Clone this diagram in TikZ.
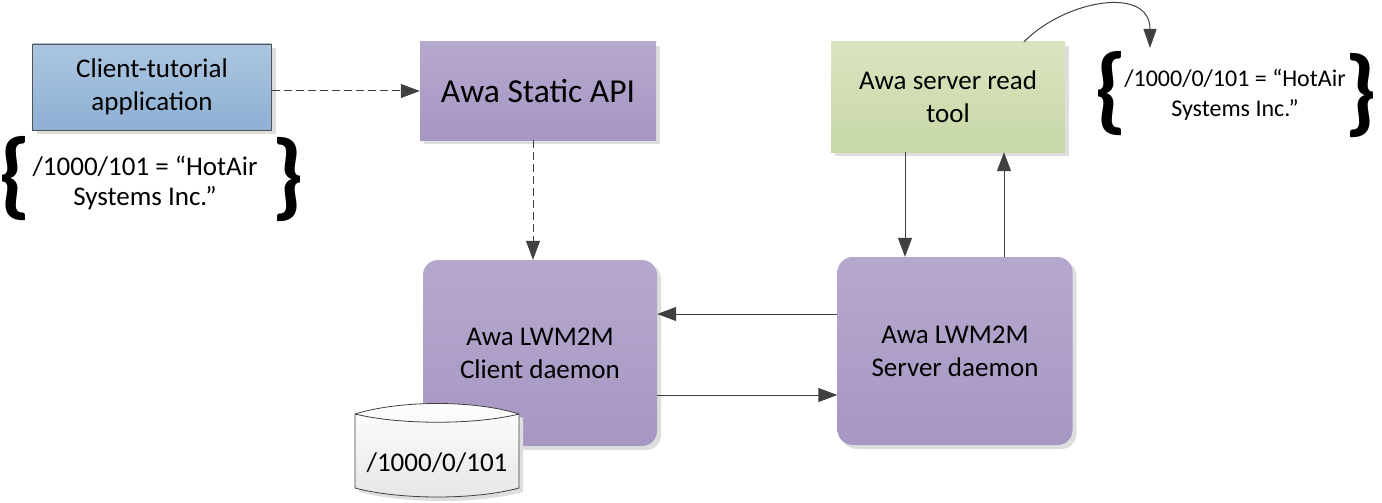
\documentclass[tikz,border=0pt]{standalone}
\usepackage{fontspec}
\setmainfont{Carlito}
\usetikzlibrary{
  arrows.meta, % for the Triangle arrow tip
  shadows, % for the grey drop shadows of the boxes
  positioning, % for relative positioning of the labels
}
\definecolor{linegray}{RGB}{64,64,64}
\tikzset{
  box/.style={ % common style of every box
    rectangle,inner sep=0pt,
    align=center,
    font=\fontsize{27}{33}\selectfont,
    drop shadow={shadow xshift=4pt,shadow yshift=-4pt,fill=black!13,opacity=1},
  },
  app/.style={ % the blue application box
    box,draw=linegray!90,line width=0.8pt,
    top color={rgb,255:red,172;green,198;blue,224},
    bottom color={rgb,255:red,142;green,176;blue,212},
  },
  lib/.style={ % the purple boxes
    box,
    top color={rgb,255:red,182;green,168;blue,205},
    bottom color={rgb,255:red,166;green,151;blue,195},
  },
  tool/.style={ % the green tool box
    box,
    top color={rgb,255:red,218;green,229;blue,192},
    bottom color={rgb,255:red,199;green,215;blue,166},
  },
  daemon/.style={ % the rounded purple daemon boxes
    lib,rounded corners=15pt,
  },
  value/.style={ % the resource values in braces
    align=center,inner sep=0pt,
    font=\fontsize{27}{30}\selectfont,
  },
  brace/.style={ % the big curly braces
    inner sep=0pt,font=\fontsize{96}{96}\selectfont\bfseries,
  },
  conn/.style={ % style for the connections
    -{Triangle[length=19pt,width=14pt]},
    draw=linegray,line width=1pt,
  },
  dashconn/.style={ % the dashed connections
    conn,dash pattern=on 8pt off 4pt,
  },
}

\begin{document}
\begin{tikzpicture}[x=1pt,y=-1pt]
	\useasboundingbox (0,0) rectangle (1382,503);

	\node[app,minimum width=239pt,minimum height=86pt] (client) at (152,87) {Client-tutorial\\application};
	\node[lib,minimum width=236pt,minimum height=98pt,font=\fontsize{33.5}{38}\selectfont] (api) at (538,91) {Awa Static API};
	\node[tool,minimum width=234pt,minimum height=110pt] (readtool) at (948,97) {Awa server read\\tool};

	\node[daemon,minimum width=234pt,minimum height=186pt] (cdaemon) at (540,353) {Awa LWM2M\\Client daemon};
	\node[daemon,minimum width=235pt,minimum height=188pt] (sdaemon) at (955,351) {Awa LWM2M\\Server daemon};

	% data store of the client
	\path[draw=linegray,line width=0.8pt,top color=white,bottom color=black!10,
	      drop shadow={shadow xshift=4pt,shadow yshift=-4pt,fill=black!13,opacity=1}]
	  (355,414) .. controls (400,400) and (475,400) .. (519,414) -- (519,488)
	  .. controls (475,500) and (400,500) .. (355,488) -- cycle;
	\draw[linegray,line width=0.8pt] (355,414) .. controls (400,425) and (475,425) .. (519,414);
	\node[value] (store) at (437,463) {/1000/0/101};

	% values written and read
	\node[value] (wval) at (145,183) {/1000/101 = “HotAir\\Systems Inc.”};
	\node[brace] (wopen) at (15,179) {\{};
	\node[brace] (wclose) at (288,180) {\}};
	\node[value,font=\fontsize{24}{30}\selectfont] (rval) at (1235,95) {/1000/0/101 = “HotAir\\Systems Inc.”};
	\node[brace] (ropen) at (1111,94) {\{};
	\node[brace] (rclose) at (1361,96) {\}};
	\coordinate (rtip) at (1150,48);

	\draw[dashconn] ([yshift=-4pt]client.east) -- ([yshift=-4pt]client.east -| api.west);
	\draw[dashconn] ([xshift=-5pt]api.south) -- ([xshift=-5pt]api.south |- cdaemon.north);
	\draw[conn] ([yshift=37pt]sdaemon.west) -- ([yshift=37pt]sdaemon.west -| cdaemon.east);
	\draw[conn] ([yshift=-42pt]cdaemon.east) -- ([yshift=-42pt]cdaemon.east -| sdaemon.west);
	\draw[conn] ([xshift=-43pt]readtool.south) -- ([xshift=-43pt]readtool.south |- sdaemon.north);
	\draw[conn] ([xshift=49pt]sdaemon.north) -- ([xshift=49pt]sdaemon.north |- readtool.south);
	\draw[conn,-{Triangle[length=19pt,width=13pt]}] ([xshift=76pt]readtool.north)
	  .. controls (1065,0) and (1150,-15) .. (rtip);

\end{tikzpicture}
\end{document}
